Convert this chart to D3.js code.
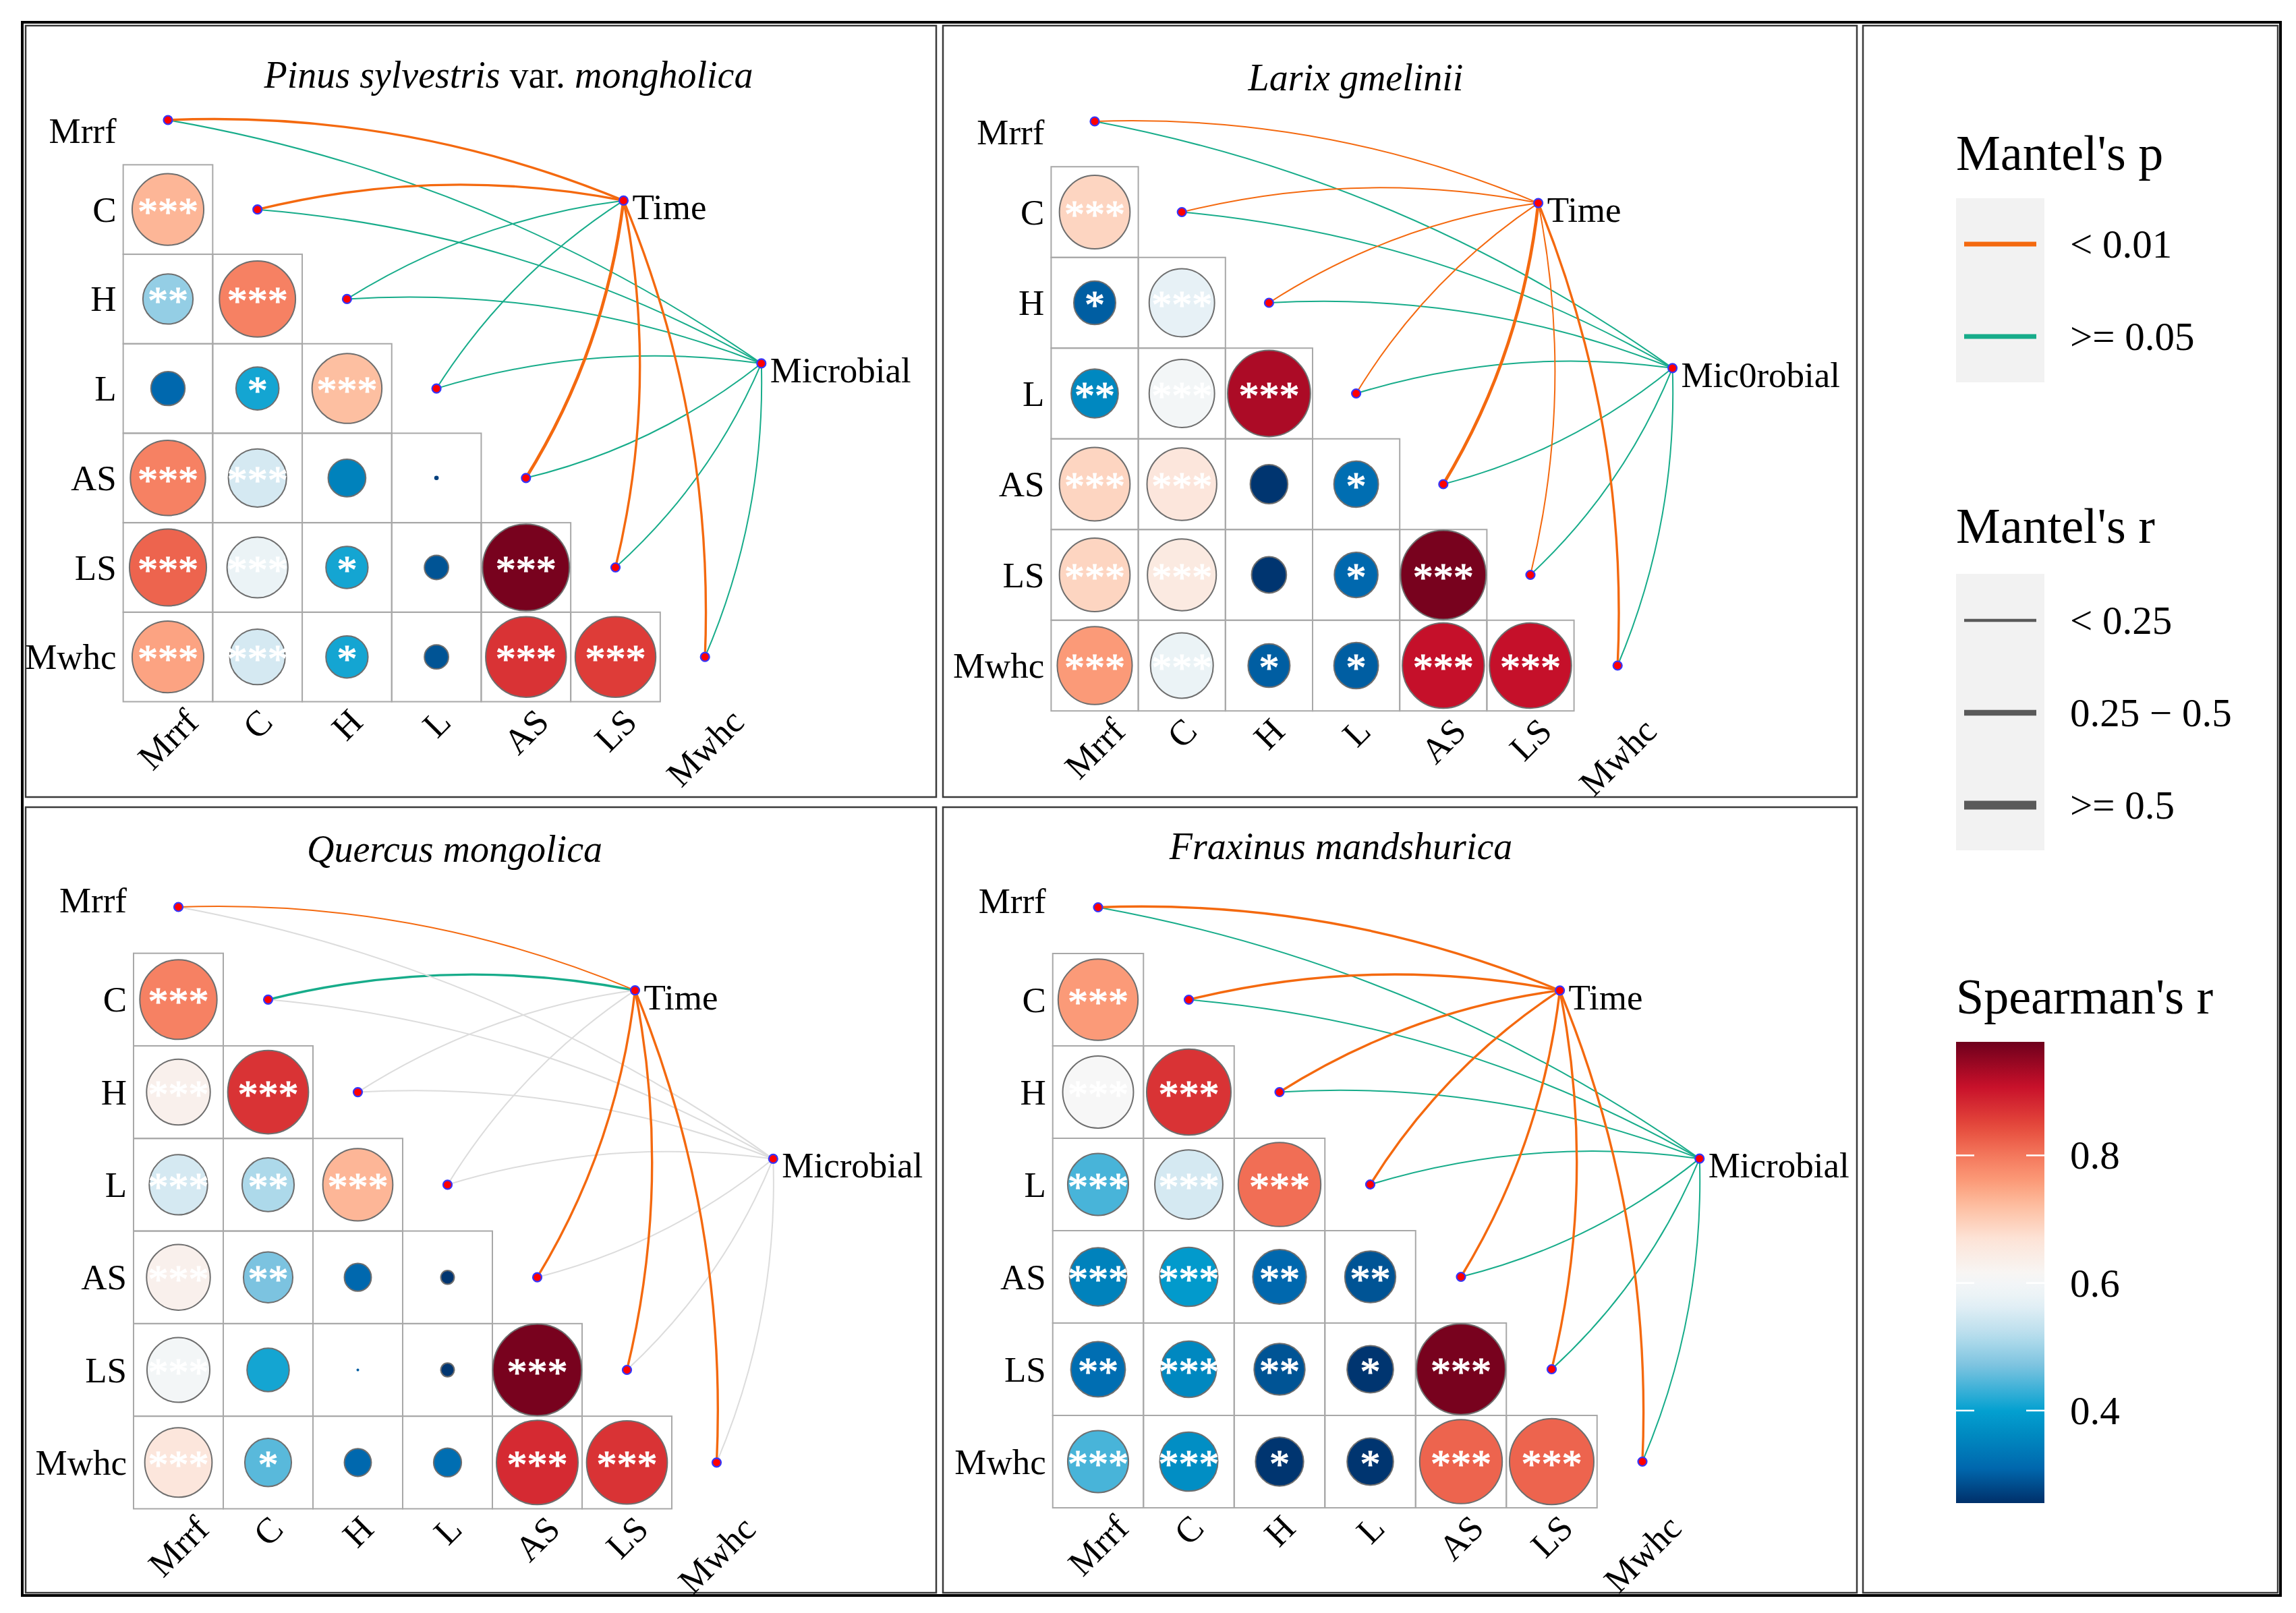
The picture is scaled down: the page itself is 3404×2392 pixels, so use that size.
<!DOCTYPE html>
<html>
<head>
<meta charset="utf-8">
<script src="https://cdn.jsdelivr.net/npm/d3@7"></script>
<style>
  body { margin: 0; background: #fff; }
  text { font-family: "Liberation Serif", "Times New Roman", serif; fill: #000; }
</style>
</head>
<body>
<svg id="chart" width="3404" height="2392"></svg>
<script>
// variables of the correlation matrix (also the link targets)
const vars = ["Mrrf", "C", "H", "L", "AS", "LS", "Mwhc"];
const pLevels = ["< 0.01", "0.01 - 0.05", ">= 0.05"];
const rLevels = ["< 0.25", "0.25 - 0.5", ">= 0.5"];
const spearmanTicks = [0.4, 0.6, 0.8];
const spearmanRange = [0.255, 0.978];

// Spearman's r, lower triangle row by row: C | H | L | AS | LS | Mwhc
const pinusR = [0.73, 0.49, 0.79, 0.31, 0.41, 0.72, 0.79, 0.55, 0.35, 0.27,
  0.82, 0.58, 0.41, 0.29, 0.97, 0.75, 0.55, 0.41, 0.29, 0.87, 0.86];
const larixR = [0.69, 0.30, 0.57, 0.36, 0.60, 0.93, 0.69, 0.66, 0.26, 0.32,
  0.69, 0.65, 0.26, 0.31, 0.97, 0.76, 0.58, 0.30, 0.30, 0.91, 0.91];
const quercusR = [0.79, 0.63, 0.87, 0.55, 0.51, 0.73, 0.63, 0.47, 0.31, 0.26,
  0.60, 0.41, 0.30, 0.26, 0.97, 0.66, 0.45, 0.31, 0.32, 0.88, 0.87];
const fraxinusR = [0.76, 0.61, 0.87, 0.44, 0.55, 0.81, 0.35, 0.39, 0.31, 0.29,
  0.32, 0.36, 0.29, 0.26, 0.97, 0.44, 0.37, 0.26, 0.26, 0.82, 0.82];

// circle magnitude (share of the cell), same order
const pinusMag = [0.80, 0.56, 0.85, 0.38, 0.48, 0.78, 0.84, 0.65, 0.42, 0.05,
  0.86, 0.68, 0.47, 0.27, 0.97, 0.80, 0.62, 0.47, 0.27, 0.90, 0.90];
const larixMag = [0.81, 0.48, 0.75, 0.54, 0.75, 0.95, 0.81, 0.80, 0.43, 0.51,
  0.81, 0.79, 0.40, 0.50, 0.98, 0.86, 0.72, 0.48, 0.51, 0.94, 0.94];
const quercusMag = [0.86, 0.71, 0.90, 0.65, 0.58, 0.78, 0.71, 0.55, 0.30, 0.15,
  0.70, 0.47, 0.03, 0.15, 0.99, 0.75, 0.52, 0.30, 0.31, 0.91, 0.90];
const fraxinusMag = [0.88, 0.78, 0.93, 0.67, 0.75, 0.91, 0.63, 0.64, 0.59, 0.56,
  0.60, 0.61, 0.56, 0.51, 0.98, 0.67, 0.64, 0.53, 0.51, 0.91, 0.93];

// significance marks, same order
const pinusSig = ["***", "**", "***", "", "*", "***", "***", "***", "", "",
  "***", "***", "*", "", "***", "***", "***", "*", "", "***", "***"];
const larixSig = ["***", "*", "***", "**", "***", "***", "***", "***", "", "*",
  "***", "***", "", "*", "***", "***", "***", "*", "*", "***", "***"];
const quercusSig = ["***", "***", "***", "***", "**", "***", "***", "**", "", "",
  "***", "", "", "", "***", "***", "*", "", "", "***", "***"];
const fraxinusSig = ["***", "***", "***", "***", "***", "***", "***", "***", "**", "**",
  "**", "***", "**", "*", "***", "***", "***", "*", "*", "***", "***"];

// Mantel tests (one entry per variable in vars)
const pinusTimeP = ["< 0.01", "< 0.01", ">= 0.05", ">= 0.05", "< 0.01", "< 0.01", "< 0.01"];
const pinusTimeR = ["0.25 - 0.5", "0.25 - 0.5", "< 0.25", "< 0.25", ">= 0.5", "0.25 - 0.5", "0.25 - 0.5"];
const pinusMicP = [">= 0.05", ">= 0.05", ">= 0.05", ">= 0.05", ">= 0.05", ">= 0.05", ">= 0.05"];
const pinusMicR = ["< 0.25", "< 0.25", "< 0.25", "< 0.25", "< 0.25", "< 0.25", "< 0.25"];
const larixTimeP = ["< 0.01", "< 0.01", "< 0.01", "< 0.01", "< 0.01", "< 0.01", "< 0.01"];
const larixTimeR = ["< 0.25", "< 0.25", "< 0.25", "< 0.25", ">= 0.5", "< 0.25", "0.25 - 0.5"];
const larixMicP = [">= 0.05", ">= 0.05", ">= 0.05", ">= 0.05", ">= 0.05", ">= 0.05", ">= 0.05"];
const larixMicR = ["< 0.25", "< 0.25", "< 0.25", "< 0.25", "< 0.25", "< 0.25", "< 0.25"];
const quercusTimeP = ["< 0.01", ">= 0.05", "0.01 - 0.05", "0.01 - 0.05", "< 0.01", "< 0.01", "< 0.01"];
const quercusTimeR = ["< 0.25", "0.25 - 0.5", "< 0.25", "< 0.25", "0.25 - 0.5", "0.25 - 0.5", "0.25 - 0.5"];
const quercusMicP = ["0.01 - 0.05", "0.01 - 0.05", "0.01 - 0.05", "0.01 - 0.05", "0.01 - 0.05", "0.01 - 0.05", "0.01 - 0.05"];
const quercusMicR = ["< 0.25", "< 0.25", "< 0.25", "< 0.25", "< 0.25", "< 0.25", "< 0.25"];
const fraxinusTimeP = ["< 0.01", "< 0.01", "< 0.01", "< 0.01", "< 0.01", "< 0.01", "< 0.01"];
const fraxinusTimeR = ["0.25 - 0.5", "0.25 - 0.5", "0.25 - 0.5", "0.25 - 0.5", "0.25 - 0.5", "0.25 - 0.5", "0.25 - 0.5"];
const fraxinusMicP = [">= 0.05", ">= 0.05", ">= 0.05", ">= 0.05", ">= 0.05", ">= 0.05", ">= 0.05"];
const fraxinusMicR = ["< 0.25", "< 0.25", "< 0.25", "< 0.25", "< 0.25", "< 0.25", "< 0.25"];

// styles
const fontLabel = 53, fontStar = 60, fontTitle = 56, fontLegTitle = 74, fontLegLabel = 59;
const pColor = d3.scaleOrdinal().domain(pLevels).range(["#F4690F", "#DCDCDC", "#17AC8A"]);
const rWidth = d3.scaleOrdinal().domain(rLevels).range([2, 3.4, 4.6]);
const rLegendWidth = d3.scaleOrdinal().domain(rLevels).range([4.5, 8.5, 13]);
const fill = d3.scaleLinear()
  .domain([0.255, 0.31, 0.36, 0.40, 0.47, 0.52, 0.57, 0.61, 0.67, 0.72, 0.76, 0.80, 0.845, 0.908, 0.978])
  .range(["#00306a", "#0068ae", "#0088c0", "#03a0d0", "#7cc3e0", "#b9deed", "#e7f1f6", "#f7f7f7",
          "#fde3d6", "#fdbfa1", "#fb9a78", "#f4785c", "#e54a3c", "#c8102a", "#6e001c"])
  .clamp(true);
const curvature = 0.11;
// env node anchors in matrix units (same in every panel)
const envAnchor = [[5.09, 0.90], [6.63, 2.72]];

const panels = [
  { frame: [38, 38, 1388, 1182], title: [["Pinus sylvestris", true], [" var. ", false], ["mongholica", true]],
    titleAt: [754, 130], x0: 249, dx: 132.7, y0: 178, dy: 132.7, topShift: 16, env: ["Time", "Microbial"],
    r: pinusR, mag: pinusMag, sig: pinusSig, p: [pinusTimeP, pinusMicP], mr: [pinusTimeR, pinusMicR] },
  { frame: [1398, 38, 2753, 1182], title: [["Larix gmelinii", true]],
    titleAt: [2010, 134], x0: 1623, dx: 129.2, y0: 180, dy: 134.5, topShift: 16, env: ["Time", "Mic0robial"],
    r: larixR, mag: larixMag, sig: larixSig, p: [larixTimeP, larixMicP], mr: [larixTimeR, larixMicR] },
  { frame: [38, 1197, 1388, 2362], title: [["Quercus mongolica", true]],
    titleAt: [674, 1278], x0: 264.5, dx: 133, y0: 1345, dy: 137.3, topShift: -10, env: ["Time", "Microbial"],
    r: quercusR, mag: quercusMag, sig: quercusSig, p: [quercusTimeP, quercusMicP], mr: [quercusTimeR, quercusMicR] },
  { frame: [1398, 1197, 2753, 2362], title: [["Fraxinus mandshurica", true]],
    titleAt: [1988, 1274], x0: 1628, dx: 134.5, y0: 1345.5, dy: 137, topShift: -10, env: ["Time", "Microbial"],
    r: fraxinusR, mag: fraxinusMag, sig: fraxinusSig, p: [fraxinusTimeP, fraxinusMicP], mr: [fraxinusTimeR, fraxinusMicR] }
];

const svg = d3.select("#chart");

//Outer frame and panel frames
svg.append("rect").attr("x", 33).attr("y", 33).attr("width", 3348).attr("height", 2333)
  .attr("fill", "none").attr("stroke", "#000").attr("stroke-width", 4);
panels.map(p => p.frame).concat([[2762, 38, 3377, 2362]]).forEach(f => {
  svg.append("rect").attr("x", f[0]).attr("y", f[1]).attr("width", f[2] - f[0]).attr("height", f[3] - f[1])
    .attr("fill", "none").attr("stroke", "#3a3a3a").attr("stroke-width", 2.5);
});

// bow the links away from the matrix
function curvePath(s, e, side) {
  let dx = e[0] - s[0], dy = e[1] - s[1], len = Math.hypot(dx, dy);
  let nx = dy / len * side, ny = -dx / len * side;
  let cx = (s[0] + e[0]) / 2 + nx * curvature * len,
      cy = (s[1] + e[1]) / 2 + ny * curvature * len;
  return `M${s[0]},${s[1]}Q${cx},${cy} ${e[0]},${e[1]}`;
}

panels.forEach(panel => {
  let g = svg.append("g");
  let x = d3.scaleLinear().domain([0, 6]).range([panel.x0, panel.x0 + 6 * panel.dx]);
  let y = d3.scaleLinear().domain([0, 6]).range([panel.y0, panel.y0 + 6 * panel.dy]);

  // lower triangle cells
  let cells = [];
  let idx = 0;
  for (let row = 1; row < vars.length; row++) {
    for (let col = 0; col < row; col++) {
      cells.push({ row, col, r: panel.r[idx], mag: panel.mag[idx], sig: panel.sig[idx] });
      idx++;
    }
  }

  g.selectAll("rect.cell").data(cells).enter().append("rect")
    .attr("class", "cell")
    .attr("x", d => x(d.col) - panel.dx / 2)
    .attr("y", d => y(d.row) - panel.dy / 2)
    .attr("width", panel.dx).attr("height", panel.dy)
    .attr("fill", "none").attr("stroke", "#a8a8a8").attr("stroke-width", 2);

  g.selectAll("ellipse").data(cells).enter().append("ellipse")
    .attr("cx", d => x(d.col)).attr("cy", d => y(d.row))
    .attr("rx", d => d.mag * panel.dx / 2)
    .attr("ry", d => d.mag * panel.dy / 2)
    .attr("fill", d => fill(d.r))
    .attr("stroke", "#6e6e6e").attr("stroke-width", d => d.mag > 0.1 ? 2 : 0);

  g.selectAll("text.sig").data(cells.filter(d => d.sig)).enter().append("text")
    .attr("class", "sig")
    .attr("x", d => x(d.col)).attr("y", d => y(d.row) + 23)
    .attr("text-anchor", "middle")
    .style("font-size", fontStar + "px").style("fill", "#fff")
    .style("stroke", "#fff").style("stroke-width", 1.2)
    .text(d => d.sig);

  // Mantel links
  let links = [];
  panel.env.forEach((name, e) => {
    vars.forEach((v, k) => {
      links.push({ e, k, p: panel.p[e][k], mr: panel.mr[e][k] });
    });
  });
  // grey first, orange last
  links.sort((a, b) => pLevels.indexOf(b.p) - pLevels.indexOf(a.p));

  g.selectAll("path.link").data(links).enter().append("path")
    .attr("class", "link")
    .attr("d", d => curvePath([x(d.k), y(d.k)], [x(envAnchor[d.e][0]), y(envAnchor[d.e][1])], d.k <= 3 ? 1 : -1))
    .attr("fill", "none")
    .attr("stroke", d => pColor(d.p))
    .attr("stroke-width", d => rWidth(d.mr));

  // nodes
  let nodes = vars.map((v, k) => [x(k), y(k)])
    .concat(envAnchor.map(a => [x(a[0]), y(a[1])]));
  g.selectAll("circle.node").data(nodes).enter().append("circle")
    .attr("class", "node")
    .attr("cx", d => d[0]).attr("cy", d => d[1]).attr("r", 6.5)
    .attr("fill", "#ff0000").attr("stroke", "#3535ff").attr("stroke-width", 2.2);

  g.selectAll("text.env").data(panel.env).enter().append("text")
    .attr("class", "env")
    .attr("x", (d, i) => x(envAnchor[i][0]) + 13)
    .attr("y", (d, i) => y(envAnchor[i][1]) + 10)
    .attr("dominant-baseline", "central")
    .style("font-size", fontLabel + "px")
    .text(d => d);

  // row labels
  g.selectAll("text.row").data(vars).enter().append("text")
    .attr("class", "row")
    .attr("x", x(0) - panel.dx / 2 - 10)
    .attr("y", (d, k) => y(k) + (k === 0 ? panel.topShift : 0))
    .attr("text-anchor", "end").attr("dominant-baseline", "central")
    .style("font-size", fontLabel + "px")
    .text(d => d);

  // column labels at 45 degrees
  let bottom = y(6) + panel.dy / 2;
  g.selectAll("text.col").data(vars).enter().append("text")
    .attr("class", "col")
    .attr("text-anchor", "middle").attr("dominant-baseline", "central")
    .style("font-size", fontLabel + "px")
    .text(d => d)
    .each(function (d, k) {
      let w = this.getComputedTextLength();
      let cx = x(k), cy = bottom + 8 + (w / 2 + 0.33 * fontLabel) * Math.SQRT1_2;
      d3.select(this).attr("x", cx).attr("y", cy)
        .attr("transform", `rotate(-45,${cx},${cy})`);
    });

  // title
  let title = g.append("text")
    .attr("x", panel.titleAt[0]).attr("y", panel.titleAt[1])
    .attr("text-anchor", "middle")
    .style("font-size", fontTitle + "px");
  panel.title.forEach(t => {
    title.append("tspan").style("font-style", t[1] ? "italic" : "normal").text(t[0]);
  });
});

// Legend
let leg = svg.append("g");
let legX = 2900, keyW = 131, labX = 3069;

leg.append("text").attr("x", legX).attr("y", 252).style("font-size", fontLegTitle + "px").text("Mantel's p");
leg.append("rect").attr("x", legX).attr("y", 294).attr("width", keyW).attr("height", 273).attr("fill", "#f2f2f2");
let pShown = ["< 0.01", ">= 0.05"];
let pY = d3.scalePoint().domain(pShown).range([362, 499]);
pShown.forEach(d => {
  leg.append("line").attr("x1", legX + 12).attr("x2", legX + keyW - 12)
    .attr("y1", pY(d)).attr("y2", pY(d))
    .attr("stroke", pColor(d)).attr("stroke-width", 7);
  leg.append("text").attr("x", labX).attr("y", pY(d)).attr("dominant-baseline", "central")
    .style("font-size", fontLegLabel + "px").text(d);
});

leg.append("text").attr("x", legX).attr("y", 805).style("font-size", fontLegTitle + "px").text("Mantel's r");
leg.append("rect").attr("x", legX).attr("y", 851).attr("width", keyW).attr("height", 410).attr("fill", "#f2f2f2");
let rY = d3.scalePoint().domain(rLevels).range([920, 1194]);
rLevels.forEach(d => {
  leg.append("line").attr("x1", legX + 12).attr("x2", legX + keyW - 12)
    .attr("y1", rY(d)).attr("y2", rY(d))
    .attr("stroke", "#5a5a5a").attr("stroke-width", rLegendWidth(d));
  leg.append("text").attr("x", labX).attr("y", rY(d)).attr("dominant-baseline", "central")
    .style("font-size", fontLegLabel + "px").text(d.replace(" - ", " \u2212 "));
});

leg.append("text").attr("x", legX).attr("y", 1503).style("font-size", fontLegTitle + "px").text("Spearman's r");
let barY = d3.scaleLinear().domain(spearmanRange).range([2229, 1545]);
let grad = svg.append("defs").append("linearGradient").attr("id", "spearman")
  .attr("x1", 0).attr("y1", 0).attr("x2", 0).attr("y2", 1);
d3.range(0, 1.0001, 0.025).forEach(t => {
  let v = spearmanRange[1] - t * (spearmanRange[1] - spearmanRange[0]);
  grad.append("stop").attr("offset", t).attr("stop-color", fill(v));
});
leg.append("rect").attr("x", legX).attr("y", barY(spearmanRange[1]))
  .attr("width", keyW).attr("height", barY(spearmanRange[0]) - barY(spearmanRange[1]))
  .attr("fill", "url(#spearman)");
spearmanTicks.forEach(t => {
  leg.append("line").attr("x1", legX).attr("x2", legX + 27).attr("y1", barY(t)).attr("y2", barY(t))
    .attr("stroke", "#fff").attr("stroke-width", 2.5);
  leg.append("line").attr("x1", legX + keyW - 27).attr("x2", legX + keyW).attr("y1", barY(t)).attr("y2", barY(t))
    .attr("stroke", "#fff").attr("stroke-width", 2.5);
  leg.append("text").attr("x", labX).attr("y", barY(t)).attr("dominant-baseline", "central")
    .style("font-size", fontLegLabel + "px").text(t.toFixed(1));
});
</script>
</body>
</html>
